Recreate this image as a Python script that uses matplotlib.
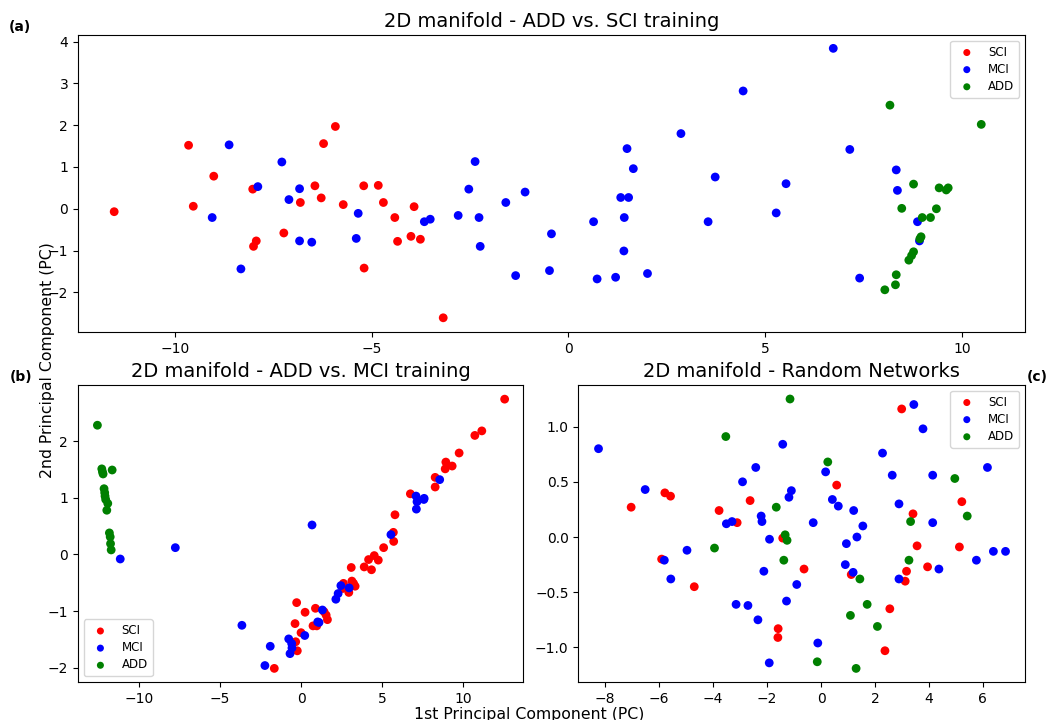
import matplotlib
matplotlib.use("Agg")
import matplotlib.pyplot as plt

# ---------------- (a) ADD vs. SCI training ----------------
a_sci_x = [-11.54, -9.65, -9.53, -9.01, -8.02, -7.93, -8.00, -7.23, -6.81, -6.44,
           -6.28, -6.22, -5.92, -5.72, -5.20, -5.19, -4.83, -4.70, -4.41, -4.34,
           -3.92, -4.00, -3.76, -3.18]
a_sci_y = [-0.07, 1.52, 0.06, 0.78, 0.47, -0.77, -0.90, -0.58, 0.15, 0.55,
           0.26, 1.56, 1.97, 0.10, 0.55, -1.42, 0.56, 0.15, -0.21, -0.78,
           0.05, -0.66, -0.73, -2.61]
a_mci_x = [-8.62, -9.05, -8.32, -7.89, -7.28, -7.10, -6.83, -6.83, -6.52, -5.34,
           -5.39, -3.66, -3.51, -2.80, -2.53, -2.37, -2.27, -2.24, -1.59, -1.34,
           -1.10, -0.43, -0.48, 0.64, 0.73, 1.20, 1.33, 1.53, 1.42, 1.41,
           1.49, 1.65, 2.01, 2.86, 3.55, 3.73, 4.44, 5.28, 5.53, 6.73,
           7.15, 7.40, 8.33, 8.36, 8.87, 8.92]
a_mci_y = [1.53, -0.21, -1.44, 0.53, 1.12, 0.22, 0.48, -0.77, -0.80, -0.11,
           -0.71, -0.31, -0.25, -0.16, 0.47, 1.13, -0.21, -0.90, 0.15, -1.60,
           0.40, -0.60, -1.48, -0.31, -1.68, -1.64, 0.27, 0.27, -0.21, -1.01,
           1.44, 0.96, -1.55, 1.80, -0.31, 0.76, 2.82, -0.10, 0.60, 3.84,
           1.42, -1.66, 0.93, 0.44, -0.31, -0.77]
a_add_x = [8.17, 10.49, 8.77, 8.47, 9.42, 9.60, 9.65, 9.35, 9.20, 8.99,
           8.96, 8.93, 8.77, 8.72, 8.65, 8.33, 8.31, 8.04]
a_add_y = [2.48, 2.02, 0.59, 0.01, 0.50, 0.45, 0.50, 0.00, -0.21, -0.21,
           -0.67, -0.72, -1.03, -1.12, -1.23, -1.58, -1.82, -1.94]

# ---------------- (b) ADD vs. MCI training ----------------
b_sci_x = [-1.65, -0.27, 0.25, -0.37, 0.00, -0.33, -0.23, 0.89, 0.74, 0.97,
           12.57, 10.73, 11.16, 9.76, 8.94, 8.90, 9.33, 8.28, 8.28, 6.75,
           5.80, 5.70, 5.72, 5.10, 4.52, 4.17, 4.77, 3.90, 4.35, 3.10,
           3.14, 3.24, 3.34, 2.62, 2.58, 2.95, 1.42, 1.55, 1.63]
b_sci_y = [-2.01, -0.85, -1.02, -1.22, -1.38, -1.54, -1.70, -0.95, -1.26, -1.26,
           2.74, 2.10, 2.18, 1.79, 1.63, 1.51, 1.56, 1.36, 1.19, 1.07,
           0.70, 0.39, 0.23, 0.12, -0.02, -0.09, -0.10, -0.22, -0.27, -0.23,
           -0.47, -0.51, -0.56, -0.51, -0.60, -0.67, -1.01, -1.07, -1.15]
b_mci_x = [-11.16, -7.76, 0.68, -3.65, -1.90, -2.23, -0.76, -0.58, -0.56, -0.68,
           0.23, 1.03, 8.56, 7.10, 7.16, 7.12, 7.60, 7.58, 5.55, 2.46,
           2.97, 2.29, 2.15, 1.32, 1.11]
b_mci_y = [-0.08, 0.12, 0.52, -1.25, -1.62, -1.96, -1.49, -1.57, -1.65, -1.75,
           -1.43, -1.19, 1.32, 1.03, 0.93, 0.80, 0.99, 0.97, 0.35, -0.55,
           -0.59, -0.69, -0.79, -0.98, -1.20]
b_add_x = [-12.57, -12.30, -12.26, -12.22, -11.66, -12.16, -12.12, -12.10, -12.06, -11.93,
           -11.99, -11.83, -11.78, -11.76, -11.72]
b_add_y = [2.28, 1.51, 1.46, 1.42, 1.49, 1.16, 1.09, 1.03, 0.97, 0.90,
           0.78, 0.38, 0.31, 0.19, 0.08]

# ---------------- (c) Random networks ----------------
c_sci_x = [-7.04, -5.79, -5.58, -5.91, -4.70, -3.78, -3.11, -2.63, -1.59, -1.60,
           2.99, 0.58, 3.41, -1.42, -0.63, 1.12, 3.56, 3.17, 3.12, 3.95,
           5.13, 5.22, 2.55, 2.37]
c_sci_y = [0.27, 0.40, 0.37, -0.20, -0.45, 0.24, 0.13, 0.33, -0.83, -0.91,
           1.16, 0.47, 0.21, -0.01, -0.29, -0.34, -0.08, -0.31, -0.40, -0.27,
           -0.09, 0.32, -0.65, -1.03]
c_mci_x = [-8.25, -6.52, -5.81, -5.57, -4.97, -3.51, -3.30, -2.91, -3.15, -2.71,
           -2.42, -2.34, -2.22, -2.19, -1.91, -2.12, -1.92, 3.44, 3.78, -1.42,
           2.28, 0.17, 2.64, 4.14, 6.17, -1.10, -1.19, 0.42, 0.64, 1.21,
           2.89, -0.29, 1.55, 4.14, 1.33, 0.94, 0.90, 1.19, 6.39, 6.84,
           5.76, 4.37, 2.89, -0.90, -1.28, -0.12]
c_mci_y = [0.80, 0.43, -0.21, -0.38, -0.12, 0.12, 0.14, 0.50, -0.61, -0.62,
           0.63, -0.75, 0.19, 0.14, -0.02, -0.31, -1.14, 1.20, 0.98, 0.84,
           0.76, 0.59, 0.56, 0.56, 0.63, 0.42, 0.36, 0.34, 0.28, 0.24,
           0.30, 0.13, 0.10, 0.13, 0.00, -0.06, -0.25, -0.32, -0.13, -0.13,
           -0.21, -0.29, -0.38, -0.43, -0.58, -0.96]
c_add_x = [-3.53, -3.95, -1.66, -1.15, 0.25, -1.33, -1.26, -1.38, 1.44, 1.71,
           1.09, 2.09, -0.14, 1.30, 3.32, 3.26, 4.96, 5.42]
c_add_y = [0.91, -0.10, 0.27, 1.25, 0.68, 0.02, -0.03, -0.21, -0.38, -0.61,
           -0.71, -0.81, -1.13, -1.19, 0.14, -0.21, 0.53, 0.19]

groups = ["SCI", "MCI", "ADD"]
colors = ["red", "blue", "green"]

fig = plt.figure(figsize=(10.48, 7.2), dpi=100)
ax_a = fig.add_axes([0.0744, 0.5389, 0.9036, 0.4125])
ax_b = fig.add_axes([0.0744, 0.0528, 0.4246, 0.4125])
ax_c = fig.add_axes([0.5518, 0.0528, 0.4262, 0.4125])

panels = [
    (ax_a, [(a_sci_x, a_sci_y), (a_mci_x, a_mci_y), (a_add_x, a_add_y)],
     "2D manifold - ADD vs. SCI training", "upper right", (-12.46, 11.6), (-2.95, 4.16)),
    (ax_b, [(b_sci_x, b_sci_y), (b_mci_x, b_mci_y), (b_add_x, b_add_y)],
     "2D manifold - ADD vs. MCI training", "lower left", (-13.77, 13.7), (-2.25, 2.99)),
    (ax_c, [(c_sci_x, c_sci_y), (c_mci_x, c_mci_y), (c_add_x, c_add_y)],
     "2D manifold - Random Networks", "upper right", (-9.0, 7.56), (-1.313, 1.377)),
]

for ax, series, title, loc, xl, yl in panels:
    for (xs, ys), name, col in zip(series, groups, colors):
        ax.scatter(xs, ys, s=40, c=col, label=name, edgecolors="none")
    ax.set_title(title, fontsize=14)
    ax.set_xlim(*xl)
    ax.set_ylim(*yl)
    ax.tick_params(labelsize=10)
    ax.legend(loc=loc, fontsize=8.5, markerscale=0.8, labelspacing=0.35)

fig.text(0.008, 0.963, "(a)", fontsize=10, fontweight="bold", ha="left", va="center")
fig.text(0.0095, 0.476, "(b)", fontsize=10, fontweight="bold", ha="left", va="center")
fig.text(0.980, 0.476, "(c)", fontsize=10, fontweight="bold", ha="left", va="center")

fig.text(0.505, 0.008, "1st Principal Component (PC)", fontsize=11.3, ha="center", va="center")
fig.text(0.045, 0.5, "2nd Principal Component (PC)", fontsize=11.3, ha="center", va="center",
         rotation=90)

fig.savefig("out.png", dpi=100)
